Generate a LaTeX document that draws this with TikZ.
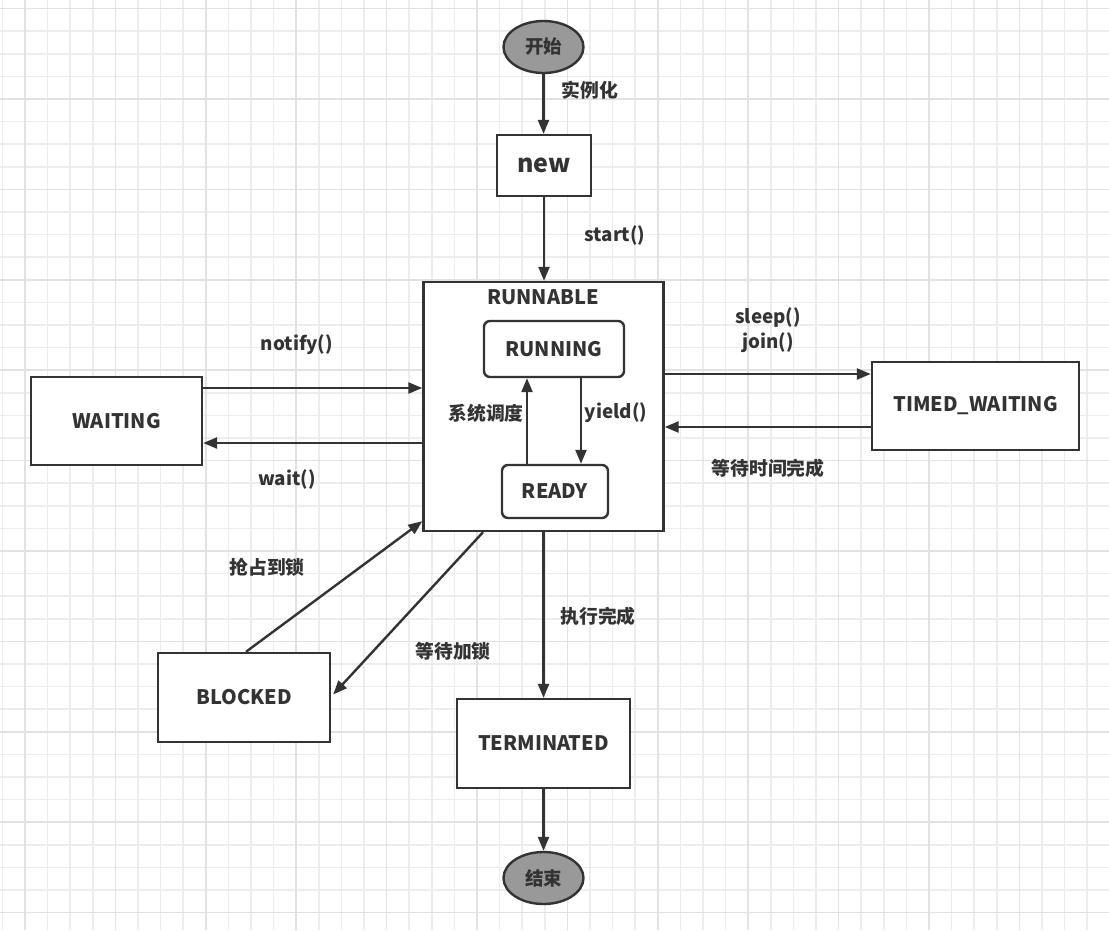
\documentclass[tikz,border=0pt]{standalone}
\usepackage{fontspec}
\setmainfont{Noto Sans CJK SC}
\usetikzlibrary{shapes.geometric,arrows.meta}
\definecolor{ink}{HTML}{333333}
\definecolor{gridminor}{HTML}{EDEDED}
\definecolor{gridmajor}{HTML}{E2E2E2}
\definecolor{oval}{HTML}{999999}
\tikzset{
  box/.style={draw=ink, line width=2.4pt, fill=white, inner sep=0pt, text=ink,
    font=\fontsize{20}{23}\selectfont\bfseries},
  rbox/.style={box, rounded corners=6pt},
  oval/.style={ellipse, draw=ink, line width=2.4pt, fill=oval, inner sep=0pt, text=ink,
    minimum width=80pt, minimum height=52pt, font=\fontsize{18.5}{20}\selectfont\bfseries},
  lbl/.style={text=ink, inner sep=0pt, font=\fontsize{18.8}{23}\selectfont\bfseries, align=center},
  arr/.style={draw=ink, line width=2.4pt, -{Triangle[length=14pt,width=11pt]}},
}
\begin{document}
\begin{tikzpicture}[x=1pt,y=-1pt]
\useasboundingbox (0,0) rectangle (1109,930);
\fill[white] (0,0) rectangle (1109,930);
% grid
\foreach \i in {0,...,49} \draw[gridminor, line width=1.5pt] ({2.4+22.6*\i},0) -- ({2.4+22.6*\i},930);
\foreach \i in {0,...,41} \draw[gridminor, line width=1.5pt] (0,{8.6+22.6*\i}) -- (1109,{8.6+22.6*\i});
\foreach \i in {0,...,12} \draw[gridmajor, line width=1.5pt] ({25+90.4*\i},0) -- ({25+90.4*\i},930);
\foreach \i in {0,...,10} \draw[gridmajor, line width=1.5pt] (0,{8.6+90.4*\i}) -- (1109,{8.6+90.4*\i});

% nodes
\node[oval] (start) at (543.5,47) {开始};
\node[box, minimum width=94pt, minimum height=61pt, font=\fontsize{25}{27}\selectfont\bfseries] (new) at (544,165.5) {new};
\node[box, minimum width=240pt, minimum height=249pt] (runnable) at (543.5,406.5) {};
\node[lbl, font=\fontsize{20}{22}\selectfont\bfseries] (runnablelbl) at (543,297) {RUNNABLE};
\node[rbox, minimum width=140pt, minimum height=56pt] (running) at (554,349) {RUNNING};
\node[rbox, minimum width=106pt, minimum height=53pt] (ready) at (555,491.5) {READY};
\node[box, minimum width=171pt, minimum height=88pt] (waiting) at (116.5,421) {WAITING};
\node[box, minimum width=207pt, minimum height=88pt] (timed) at (975.5,406) {TIMED\_WAITING};
\node[box, minimum width=172pt, minimum height=89pt] (blocked) at (244,697.5) {BLOCKED};
\node[box, minimum width=173pt, minimum height=89pt] (terminated) at (543.5,743.5) {TERMINATED};
\node[oval] (end) at (543.5,878) {结束};

% helper coordinates
\coordinate (xup) at (527,0);
\coordinate (xdown) at (581,0);
\coordinate (yin1) at (0,388);
\coordinate (yout1) at (0,443);
\coordinate (yout2) at (0,374);
\coordinate (yin2) at (0,427);

% connectors
\draw[arr] (start.south) -- (start.south |- new.north);
\draw[arr] (new.south) -- (new.south |- runnable.north);
\draw[arr] (ready.north -| xup) -- (running.south -| xup);
\draw[arr] (running.south -| xdown) -- (ready.north -| xdown);
\draw[arr] (waiting.east |- yin1) -- (runnable.west |- yin1);
\draw[arr] (runnable.west |- yout1) -- (waiting.east |- yout1);
\draw[arr] (runnable.east |- yout2) -- (timed.west |- yout2);
\draw[arr] (timed.west |- yin2) -- (runnable.east |- yin2);
\draw[arr] ([xshift=2pt]blocked.north) -- ([yshift=11pt]runnable.south west);
\draw[arr] ([xshift=-60.5pt]runnable.south) -- ([xshift=2pt,yshift=3pt]blocked.east);
\draw[arr] (runnable.south) -- (runnable.south |- terminated.north);
\draw[arr] (terminated.south) -- (terminated.south |- end.north);

% labels
\node[lbl] (l1) at (590,90) {实例化};
\node[lbl] (l2) at (615,236) {start()};
\node[lbl] (l3) at (486,413) {系统调度};
\node[lbl] (l4) at (616,413) {yield()};
\node[lbl] (l5) at (297,345) {notify()};
\node[lbl] (l6) at (287,480) {wait()};
\node[lbl] (l7) at (768,330.5) {sleep()\\[2pt]join()};
\node[lbl] (l8) at (768,468) {等待时间完成};
\node[lbl] (l9) at (267,567) {抢占到锁};
\node[lbl] (l10) at (453,651) {等待加锁};
\node[lbl] (l11) at (598,616) {执行完成};
\end{tikzpicture}
\end{document}
